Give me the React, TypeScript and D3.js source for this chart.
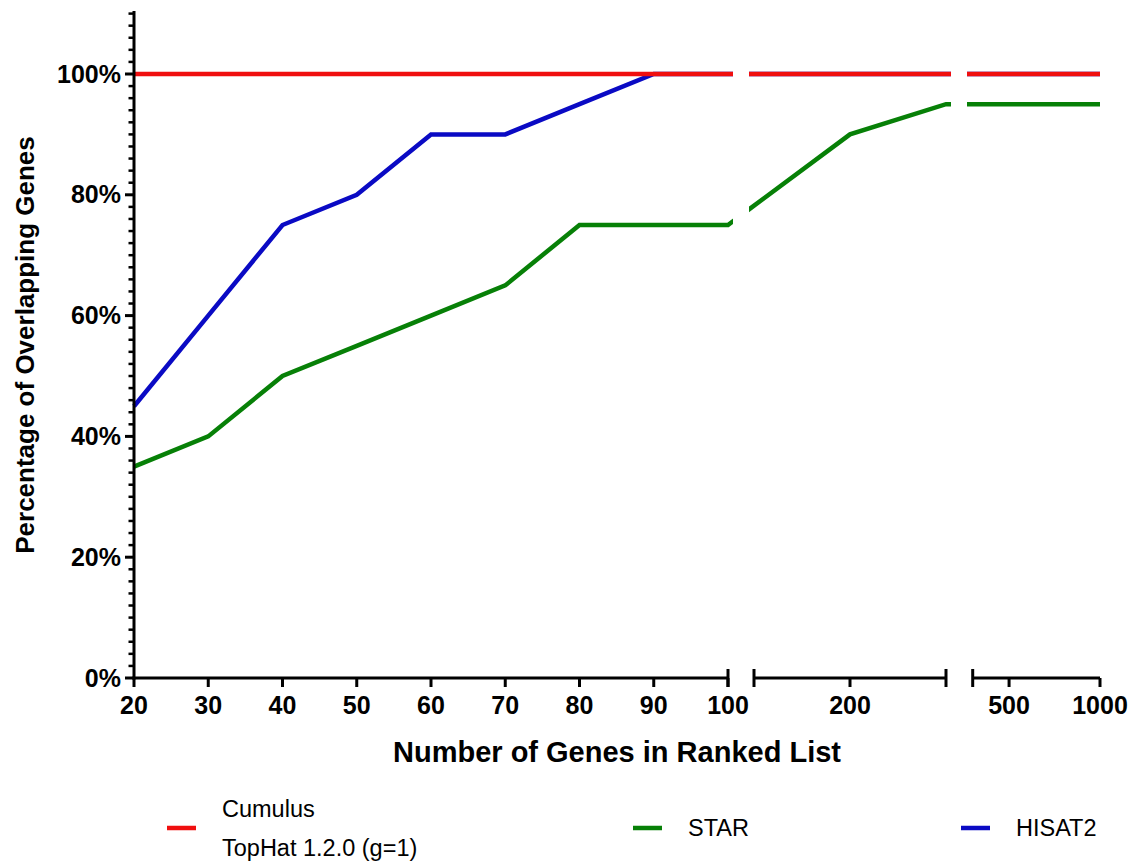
import { useEffect, useRef } from "react";
import * as d3 from "d3";

// x positions (number of genes in ranked list)
const genes = [20, 30, 40, 50, 60, 70, 80, 90, 100, 200, 300, 500, 1000];

// series values (% overlapping genes)
const cumulus = [100, 100, 100, 100, 100, 100, 100, 100, 100, 100, 100, 100, 100];
const star = [35, 40, 50, 55, 60, 65, 75, 75, 75, 90, 95, 95, 95];
const hisat2 = [45, 60, 75, 80, 90, 90, 95, 100, 100, 100, 100, 100, 100];

// tick labels
const yTicks = [0, 20, 40, 60, 80, 100];
const segTicks = [
  [20, 30, 40, 50, 60, 70, 80, 90, 100],
  [200],
  [500, 1000],
];

const W = 1135;
const H = 863;
const FONT = "'Liberation Sans', Arial, sans-serif";

// broken x axis: three linear pieces
const segments = [
  { domain: [20, 100], range: [134, 728] },
  { domain: [100, 300], range: [754, 946] },
  { domain: [300, 1000], range: [972.7, 1100] },
].map(s => ({ ...s, scale: d3.scaleLinear().domain(s.domain).range(s.range) }));

// where the lines are visible (gaps blank out the breaks)
const lineWindows = [
  [100, 733],
  [749, 951],
  [967, 1110],
];

const xPos = (v: number) => {
  const seg = segments.find(s => v >= s.domain[0] && v <= s.domain[1])!;
  return seg.scale(v);
};

const y = d3.scaleLinear().domain([0, 110]).range([678, 13.6]);

const series = [
  { name: "STAR", values: star, color: "#078007" },
  { name: "HISAT2", values: hisat2, color: "#0a0ac4" },
  { name: "Cumulus", values: cumulus, color: "#f00f0f" },
];

const drawChart = (node: SVGSVGElement) => {
  const svg = d3.select(node);
  svg.selectAll("*").remove();

  const defs = svg.append("defs");
  lineWindows.forEach((w, i) => {
    defs.append("clipPath").attr("id", `win${i}`)
      .append("rect")
      .attr("x", w[0]).attr("y", 0)
      .attr("width", w[1] - w[0]).attr("height", H);
  });

  // lines
  const line = d3.line<number>()
    .x((_, i) => xPos(genes[i]))
    .y(d => y(d));

  series.forEach(s => {
    lineWindows.forEach((_, i) => {
      svg.append("path")
        .attr("clip-path", `url(#win${i})`)
        .attr("d", line(s.values))
        .attr("fill", "none")
        .attr("stroke", s.color)
        .attr("stroke-width", 4.5)
        .attr("stroke-linejoin", "miter");
    });
  });

  // y axis
  const ax = svg.append("g").attr("stroke", "#000");
  ax.append("line")
    .attr("x1", 134).attr("x2", 134)
    .attr("y1", 11).attr("y2", 679.5)
    .attr("stroke-width", 3);
  d3.range(0, 111, 2).forEach(v => {
    const major = yTicks.includes(v);
    ax.append("line")
      .attr("x1", major ? 125 : 128.5).attr("x2", 134)
      .attr("y1", y(v)).attr("y2", y(v))
      .attr("stroke-width", major ? 3 : 2.5);
  });
  svg.append("g")
    .selectAll("text")
    .data(yTicks)
    .join("text")
    .attr("x", 121)
    .attr("y", d => y(d) + 8.5)
    .attr("text-anchor", "end")
    .attr("font-family", FONT)
    .attr("font-weight", "bold")
    .attr("font-size", 25)
    .text(d => `${d}%`);

  // broken x axis
  segments.forEach((s, i) => {
    ax.append("line")
      .attr("x1", s.range[0] - (i === 0 ? 1.5 : 0)).attr("x2", s.range[1])
      .attr("y1", 678).attr("y2", 678)
      .attr("stroke-width", 3);
    // end caps of the pieces cross the axis
    if (i > 0) {
      ax.append("line")
        .attr("x1", s.range[0]).attr("x2", s.range[0])
        .attr("y1", 669).attr("y2", 687)
        .attr("stroke-width", 3);
    }
    if (i < segments.length - 1) {
      ax.append("line")
        .attr("x1", s.range[1]).attr("x2", s.range[1])
        .attr("y1", 669).attr("y2", 687)
        .attr("stroke-width", 3);
    }
    segTicks[i].forEach(t => {
      ax.append("line")
        .attr("x1", s.scale(t)).attr("x2", s.scale(t))
        .attr("y1", 678).attr("y2", 687)
        .attr("stroke-width", 3);
      svg.append("text")
        .attr("x", s.scale(t))
        .attr("y", 714)
        .attr("text-anchor", "middle")
        .attr("font-family", FONT)
        .attr("font-weight", "bold")
        .attr("font-size", 25)
        .text(t);
    });
  });

  // axis titles
  svg.append("text")
    .attr("x", 617).attr("y", 762)
    .attr("text-anchor", "middle")
    .attr("font-family", FONT)
    .attr("font-weight", "bold")
    .attr("font-size", 29)
    .text("Number of Genes in Ranked List");
  svg.append("text")
    .attr("transform", "translate(34,345) rotate(-90)")
    .attr("text-anchor", "middle")
    .attr("font-family", FONT)
    .attr("font-weight", "bold")
    .attr("font-size", 26)
    .text("Percentage of Overlapping Genes");

  // legend
  const legend = [
    { lines: ["Cumulus", "TopHat 1.2.0 (g=1)"], color: "#f00f0f", x: 167 },
    { lines: ["STAR"], color: "#078007", x: 633 },
    { lines: ["HISAT2"], color: "#0a0ac4", x: 961 },
  ];
  legend.forEach(l => {
    const cy = 828;
    svg.append("line")
      .attr("x1", l.x).attr("x2", l.x + 29)
      .attr("y1", cy).attr("y2", cy)
      .attr("stroke", l.color)
      .attr("stroke-width", 4.5);
    l.lines.forEach((t, j) => {
      svg.append("text")
        .attr("x", l.x + 55)
        .attr("y", cy + 8 + (j - (l.lines.length - 1) / 2) * 39)
        .attr("font-family", FONT)
        .attr("font-size", 23.5)
        .attr("fill", "#000")
        .text(t);
    });
  });
};

export default function App() {
  const ref = useRef<SVGSVGElement>(null);
  useEffect(() => {
    document.body.style.margin = "0";
    if (ref.current) drawChart(ref.current);
  }, []);
  return <svg ref={ref} width={W} height={H} style={{ display: "block", background: "#fff" }} />;
}
